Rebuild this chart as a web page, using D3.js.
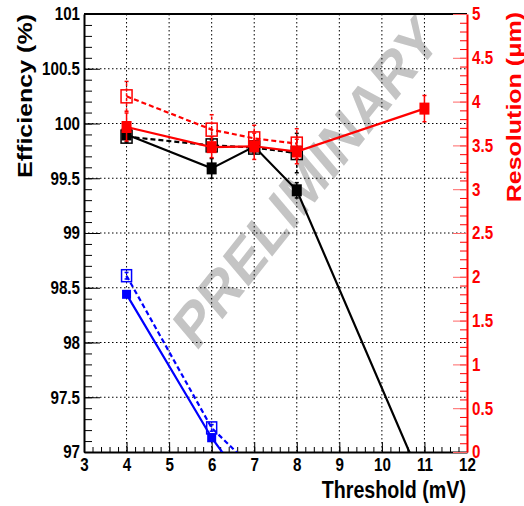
<!DOCTYPE html>
<html>
<head>
<meta charset="utf-8">
<script src="https://cdn.jsdelivr.net/npm/d3@7"></script>
<style>
  body { margin: 0; background: #fff; }
  svg { display: block; }
  text { font-family: "Liberation Sans", Arial, sans-serif; font-weight: bold; }
</style>
</head>
<body>
<svg id="chart" width="524" height="506"></svg>
<script>
// threshold points (mV)
const blackX = [4, 6, 7, 8, 11];
const blackEff = [99.9, 99.59, 99.79, 99.39, 96.68];
const blackEffErr = [0.03, 0.09, 0.05, 0.07, 0.05];

const blackOpenX = [4, 6, 7, 8];
const blackOpenEff = [99.88, 99.8, 99.78, 99.73];
const blackOpenErr = [0.05, 0.05, 0.05, 0.18];

const redX = [4, 6, 7, 8, 11];
const redRes = [3.71, 3.48, 3.49, 3.43, 3.92];
const redResErr = [0.16, 0.12, 0.15, 0.14, 0.15];

const redOpenX = [4, 6, 7, 8];
const redOpenRes = [4.06, 3.68, 3.58, 3.52];
const redOpenErr = [0.17, 0.17, 0.15, 0.17];

const blueX = [4, 6, 7];
const blueEff = [98.44, 97.13, 96.6];
const blueEffErr = [0.02, 0.03, 0.03];

const blueOpenX = [4, 6, 7];
const blueOpenEff = [98.61, 97.22, 96.84];
const blueOpenErr = [0.03, 0.03, 0.03];

const xTicks = [3, 4, 5, 6, 7, 8, 9, 10, 11, 12];
const effTicks = [97, 97.5, 98, 98.5, 99, 99.5, 100, 100.5, 101];
const resTicks = [0, 0.5, 1, 1.5, 2, 2.5, 3, 3.5, 4, 4.5, 5];

// the original canvas is squeezed horizontally
const sx = 0.82;

var svg = d3.select("#chart");
var pLeft = 84, pRight = 467, pTop = 14, pBottom = 452;

var x = d3.scaleLinear().domain([3, 12]).range([pLeft, pRight]);
var yEff = d3.scaleLinear().domain([97, 101]).range([pBottom, pTop]);
var yRes = d3.scaleLinear().domain([0, 5]).range([pBottom, pTop]);

svg.append("defs").append("clipPath").attr("id", "clip")
  .append("rect")
  .attr("x", pLeft).attr("y", pTop)
  .attr("width", pRight - pLeft).attr("height", pBottom - pTop);

// watermark
svg.append("text")
  .attr("transform", "translate(306,182) scale(" + sx + ",1) rotate(-46)")
  .attr("text-anchor", "middle")
  .attr("dy", "0.35em")
  .attr("font-size", 63)
  .attr("fill", "#c4c4c4")
  .text("PRELIMINARY");

// dotted grid
var grid = svg.append("g").attr("stroke", "#000").attr("stroke-width", 1)
  .attr("stroke-dasharray", "1.5,2.5");
grid.selectAll(".gx").data(xTicks.slice(1, -1)).enter().append("line")
  .attr("x1", d => x(d)).attr("x2", d => x(d))
  .attr("y1", pTop).attr("y2", pBottom);
grid.selectAll(".gy").data(effTicks.slice(1, -1)).enter().append("line")
  .attr("x1", pLeft).attr("x2", pRight)
  .attr("y1", d => yEff(d)).attr("y2", d => yEff(d));

// axes
function squeezeLabels(g) {
  g.selectAll("text")
    .attr("font-size", 18.5)
    .attr("transform", "scale(" + sx + ",1)")
    .attr("x", function() { return +d3.select(this).attr("x") / sx; });
}

var minorX = d3.range(3, 12.001, 0.2);
svg.append("g").attr("transform", "translate(0," + pBottom + ")")
  .call(d3.axisBottom(x).tickValues(minorX).tickSize(-5).tickFormat(""))
  .call(g => g.select(".domain").remove());
var gx = svg.append("g").attr("transform", "translate(0," + pBottom + ")")
  .call(d3.axisBottom(x).tickValues(xTicks).tickSizeInner(-10).tickSizeOuter(0)
    .tickPadding(6).tickFormat(d3.format("d")));
gx.select(".domain").attr("stroke-width", 2);
squeezeLabels(gx);

var minorEff = d3.range(97, 101.001, 0.1);
svg.append("g").attr("transform", "translate(" + pLeft + ",0)")
  .call(d3.axisLeft(yEff).tickValues(minorEff).tickSize(-8).tickFormat(""))
  .call(g => g.select(".domain").remove());
var gy = svg.append("g").attr("transform", "translate(" + pLeft + ",0)")
  .call(d3.axisLeft(yEff).tickValues(effTicks).tickSizeInner(-16).tickSizeOuter(0)
    .tickPadding(4).tickFormat(d => d3.format("")(d)));
gy.select(".domain").attr("stroke-width", 2);
squeezeLabels(gy);

// top frame
svg.append("line").attr("x1", pLeft).attr("x2", pRight).attr("y1", pTop).attr("y2", pTop)
  .attr("stroke", "#000").attr("stroke-width", 2);

var minorRes = d3.range(0, 5.001, 0.1);
svg.append("g").attr("transform", "translate(" + pRight + ",0)")
  .call(d3.axisRight(yRes).tickValues(minorRes).tickSize(-7).tickFormat(""))
  .call(g => g.select(".domain").remove())
  .call(g => g.selectAll("line").attr("stroke", "#f00"));
var gr = svg.append("g").attr("transform", "translate(" + pRight + ",0)")
  .call(d3.axisRight(yRes).tickValues(resTicks).tickSizeInner(-14).tickSizeOuter(0)
    .tickPadding(5).tickFormat(d => d3.format("")(d)));
gr.select(".domain").attr("stroke", "#f00").attr("stroke-width", 2);
gr.selectAll("line").attr("stroke", "#f66");
gr.selectAll("text").attr("fill", "#f00");
squeezeLabels(gr);

// axis titles
svg.append("text")
  .attr("transform", "translate(466,498) scale(" + sx + ",1)")
  .attr("text-anchor", "end").attr("font-size", 24)
  .text("Threshold (mV)");
svg.append("text")
  .attr("transform", "translate(32,14) scale(" + sx + ",1) rotate(-90)")
  .attr("text-anchor", "end").attr("font-size", 25)
  .text("Efficiency (%)");
svg.append("text")
  .attr("transform", "translate(521,12) scale(" + sx + ",1) rotate(-90)")
  .attr("text-anchor", "end").attr("font-size", 25).attr("fill", "#f00")
  .text("Resolution (\u03bcm)");

// series
var plot = svg.append("g").attr("clip-path", "url(#clip)");

function drawSeries(xs, ys, errs, yScale, color, dashed, open, w, h) {
  var pts = xs.map((d, i) => ({ x: d, y: ys[i], e: errs[i] }));
  var dash = dashed ? "5,3" : null;
  plot.append("path").datum(pts)
    .attr("fill", "none").attr("stroke", color).attr("stroke-width", 2.2)
    .attr("stroke-dasharray", dash)
    .attr("d", d3.line().x(d => x(d.x)).y(d => yScale(d.y)));
  var eb = plot.append("g").attr("stroke", color).attr("stroke-width", 1.5);
  eb.selectAll("line.bar").data(pts).enter().append("line")
    .attr("x1", d => x(d.x)).attr("x2", d => x(d.x))
    .attr("y1", d => yScale(d.y - d.e)).attr("y2", d => yScale(d.y + d.e))
    .attr("stroke-dasharray", dashed ? "3,2" : null);
  eb.selectAll("line.cap").data(pts.flatMap(d => [d.y - d.e, d.y + d.e].map(v => ({ x: d.x, v: v }))))
    .enter().append("line")
    .attr("x1", d => x(d.x) - 2).attr("x2", d => x(d.x) + 2)
    .attr("y1", d => yScale(d.v)).attr("y2", d => yScale(d.v));
  plot.append("g").selectAll("rect").data(pts).enter().append("rect")
    .attr("x", d => x(d.x) - w / 2).attr("y", d => yScale(d.y) - h / 2)
    .attr("width", w).attr("height", h)
    .attr("fill", open ? "none" : color)
    .attr("stroke", color).attr("stroke-width", open ? 1.5 : 0);
}

drawSeries(blackOpenX, blackOpenEff, blackOpenErr, yEff, "#000", true, true, 11, 13);
drawSeries(blackX, blackEff, blackEffErr, yEff, "#000", false, false, 10, 12);
drawSeries(redOpenX, redOpenRes, redOpenErr, yRes, "#f00", true, true, 11, 13);
drawSeries(redX, redRes, redResErr, yRes, "#f00", false, false, 10, 12);
drawSeries(blueOpenX, blueOpenEff, blueOpenErr, yEff, "#00f", true, true, 10, 12);
drawSeries(blueX, blueEff, blueEffErr, yEff, "#00f", false, false, 9, 9);
</script>
</body>
</html>
